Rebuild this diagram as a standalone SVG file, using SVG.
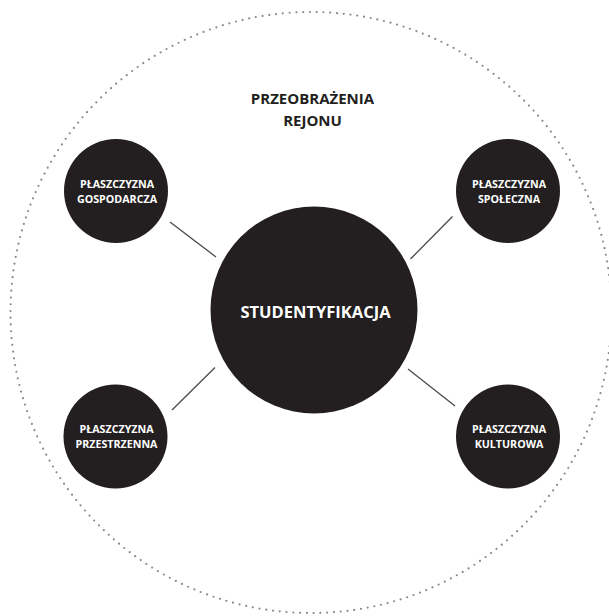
<svg xmlns="http://www.w3.org/2000/svg" width="609" height="616" viewBox="0 0 609 616">
<style>
  .node { fill: #231f20; }
  .lbl { fill: #ffffff; font-family: "Open Sans", "DejaVu Sans", sans-serif; font-weight: bold; text-anchor: middle; }
  .small { font-size: 10.7px; }
  .title { fill: #231f20; font-family: "Open Sans", "DejaVu Sans", sans-serif; font-weight: bold; font-size: 15px; text-anchor: middle; }
  .conn { stroke: #4a4a4a; stroke-width: 1.3; fill: none; }
</style>
<rect width="609" height="616" fill="#ffffff"/>
<g id="boundary">
  <circle cx="311" cy="312.5" r="300.5" fill="none" stroke="#8a8a8a" stroke-width="2.2" stroke-linecap="round" stroke-dasharray="0 6.8"/>
  <text class="title" x="312.5" y="104">PRZEOBRAŻENIA</text>
  <text class="title" x="312.5" y="126">REJONU</text>
</g>
<g id="connectors">
  <line class="conn" x1="170" y1="222" x2="216" y2="257"/>
  <line class="conn" x1="452.5" y1="216.5" x2="410.5" y2="259"/>
  <line class="conn" x1="215" y1="367.5" x2="172" y2="410"/>
  <line class="conn" x1="408" y1="369" x2="455" y2="406"/>
</g>
<g id="studentyfikacja">
  <circle class="node" cx="314" cy="310" r="103.5"/>
  <text class="lbl" x="315.5" y="318" font-size="16.5">STUDENTYFIKACJA</text>
</g>
<g id="gospodarcza">
  <circle class="node" cx="116" cy="191" r="52"/>
  <text class="lbl small" x="117" y="187.7">PŁASZCZYZNA</text>
  <text class="lbl small" x="117" y="202.7">GOSPODARCZA</text>
</g>
<g id="spoleczna">
  <circle class="node" cx="508" cy="191" r="52"/>
  <text class="lbl small" x="509" y="188">PŁASZCZYZNA</text>
  <text class="lbl small" x="509" y="203">SPOŁECZNA</text>
</g>
<g id="przestrzenna">
  <circle class="node" cx="115.5" cy="436.5" r="52"/>
  <text class="lbl small" x="116.5" y="432.7">PŁASZCZYZNA</text>
  <text class="lbl small" x="116.5" y="447.7">PRZESTRZENNA</text>
</g>
<g id="kulturowa">
  <circle class="node" cx="508" cy="436.5" r="52"/>
  <text class="lbl small" x="509" y="433">PŁASZCZYZNA</text>
  <text class="lbl small" x="509" y="448">KULTUROWA</text>
</g>
</svg>
